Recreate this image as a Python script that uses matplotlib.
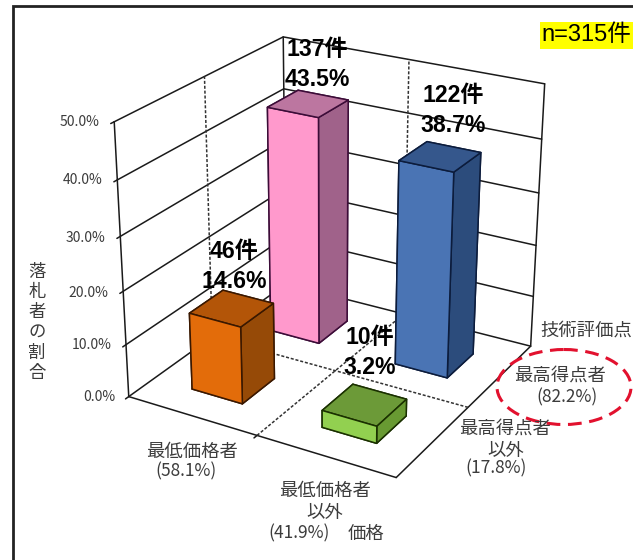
#!/usr/bin/env python3
import numpy as np
import matplotlib
matplotlib.use('Agg')
import matplotlib.pyplot as plt
from matplotlib.patches import Ellipse, Rectangle

W, H = 633, 560
JP = ['Noto Sans CJK JP', 'DejaVu Sans']
BOLD = ['Liberation Sans', 'Noto Sans CJK JP', 'DejaVu Sans']
TXT = '#3c3c3c'

# ── Data ──────────────────────────────────────────────────────────────────────
price_idx = [0, 1, 0, 1]   # 0: lowest price bidder, 1: other
tech_idx = [0, 0, 1, 1]    # 0: other, 1: top technical score
values = [14.6, 3.2, 43.5, 38.7]
counts = ['46件', '10件', '137件', '122件']
z_ticks = [0, 10, 20, 30, 40, 50]
z_labels = ['0.0%', '10.0%', '20.0%', '30.0%', '40.0%', '50.0%']
y_title = '落札者の割合'
n_label = 'n=315件'

# front, top, side, edge
bar_colors = [('#E36C0A', '#B35508', '#964A07', '#3a1800'),
              ('#92D050', '#6C9A38', '#689A32', '#1a3000'),
              ('#FF99CC', '#BC76A0', '#A0628A', '#3c0c38'),
              ('#4A74B4', '#35578C', '#2C4C7C', '#0c1c3c')]

# camera fitted against the frame corners of the reference
ELEV, AZIM, ROLL, FOCAL = 24.189, -60.130, -0.122, 0.6429
ASPECT = (1.0368, 1.0313, 1)
L, BT, AW = 75.99, 59.35, 505.52
XC = [0.2512, 0.7522]
YC = [0.2483, 0.7461]
WX, WY = 0.1984, 0.2003

fig = plt.figure(figsize=(W / 100, H / 100), dpi=100, facecolor='white')
ax = fig.add_axes([L / W, BT / H, AW / W, AW / H], projection='3d')
ax.set_xlim(0, 1, view_margin=0)
ax.set_ylim(0, 1, view_margin=0)
ax.set_zlim(0, 50, view_margin=0)
ax.view_init(ELEV, AZIM, ROLL)
ax.set_proj_type('persp', focal_length=FOCAL)
ax.set_box_aspect(ASPECT)
ax.set_axis_off()
ax.computed_zorder = False

line = dict(color='#1a1a1a', lw=1.1, zorder=1, solid_capstyle='round')
dash = dict(color='#333333', lw=1.1, zorder=2, dashes=(2, 1.2))

# ── Floor and walls ───────────────────────────────────────────────────────────
for x0, y0, x1, y1 in [(0, 0, 1, 0), (1, 0, 1, 1), (0, 0, 0, 1), (0, 1, 1, 1)]:
    ax.plot([x0, x1], [y0, y1], [0, 0], **line)
for z in z_ticks[1:]:
    ax.plot([0, 0, 1], [0, 1, 1], [z, z, z], **line)
for z in z_ticks:
    ax.plot([0, 0], [-0.018, 0], [z, z], **line)
for xx, yy in [(0, 0), (0, 1), (1, 1)]:
    ax.plot([xx, xx], [yy, yy], [0, 50], **line)
ax.plot([0.5, 0.5], [-0.018, 0], [0, 0], **line)

# dashed dividers: across the floor and up the walls
ax.plot([0.5, 0.5, 0.5], [0, 1, 1], [0, 0, 50], **dash)
ax.plot([1, 0, 0], [0.5, 0.5, 0.5], [0, 0, 50], **dash)

# ── Bars, back row first ──────────────────────────────────────────────────────
order = [2, 3, 0, 1]
for k, i in enumerate(order):
    front, top, side, edge = bar_colors[i]
    # bar3d face order: bottom, top, front, back, left, right
    ax.bar3d(XC[price_idx[i]] - WX / 2, YC[tech_idx[i]] - WY / 2, 0, WX, WY, values[i],
             color=[front, top, front, front, front, side], edgecolor=edge,
             linewidth=1.1, shade=False, zorder=5 + k)

# ── Text and annotations, in pixel coordinates ────────────────────────────────
ov = fig.add_axes([0, 0, 1, 1])
ov.set_xlim(0, W)
ov.set_ylim(H, 0)
ov.axis('off')
ov.patch.set_alpha(0)


def label(x, y, s, size=13.2):
    ov.text(x, y, s, ha='center', va='center', fontsize=size, color=TXT, family=JP)


def bold(x, y, s):
    ov.text(x, y, s, ha='center', va='center', fontsize=16.6, color='k',
            family=BOLD, fontweight='bold')


# outer border of the pasted figure
ov.plot([12.5, 12.5, W], [H, 5.5, 5.5], color='#222222', lw=2, solid_joinstyle='miter', clip_on=False)

ov.add_patch(Rectangle((540, 22), 93, 27, facecolor='#FFFF00', edgecolor='none'))
ov.text(586.5, 35, n_label, ha='center', va='center', fontsize=17, color='k',
        family=['Liberation Sans', 'Noto Sans CJK JP'])

ov.add_patch(Ellipse((564, 387), 134, 75, fill=False, edgecolor='#E2112E', lw=2.2,
                     linestyle=(0, (4.5, 2.5))))

for x, y, s in zip([99, 92, 88, 86, 83, 80], [397, 345, 293, 238, 180, 122], z_labels):
    label(x, y, s, size=10)
for k, ch in enumerate(y_title):
    label(37, 272 + k * 20.2, ch, size=12.5)

bx = [234, 370, 317, 453]
by = [252, 338, 50, 96]
for i, v in enumerate(values):
    bold(bx[i], by[i], counts[i])
    bold(bx[i], by[i] + 29, f'{v:.1f}%')

label(192, 452, '最低価格者')
label(186, 471, '(58.1%)', size=12.5)
label(325, 491, '最低価格者')
label(325, 513, '以外')
label(299, 533, '(41.9%)', size=12.5)
label(366, 534, '価格')
label(560, 376, '最高得点者')
label(567, 397, '(82.2%)', size=12.5)
label(505, 429, '最高得点者')
label(506, 451, '以外')
label(496, 468, '(17.8%)', size=12.5)
label(586, 331, '技術評価点')

fig.savefig('out.png', dpi=100)
